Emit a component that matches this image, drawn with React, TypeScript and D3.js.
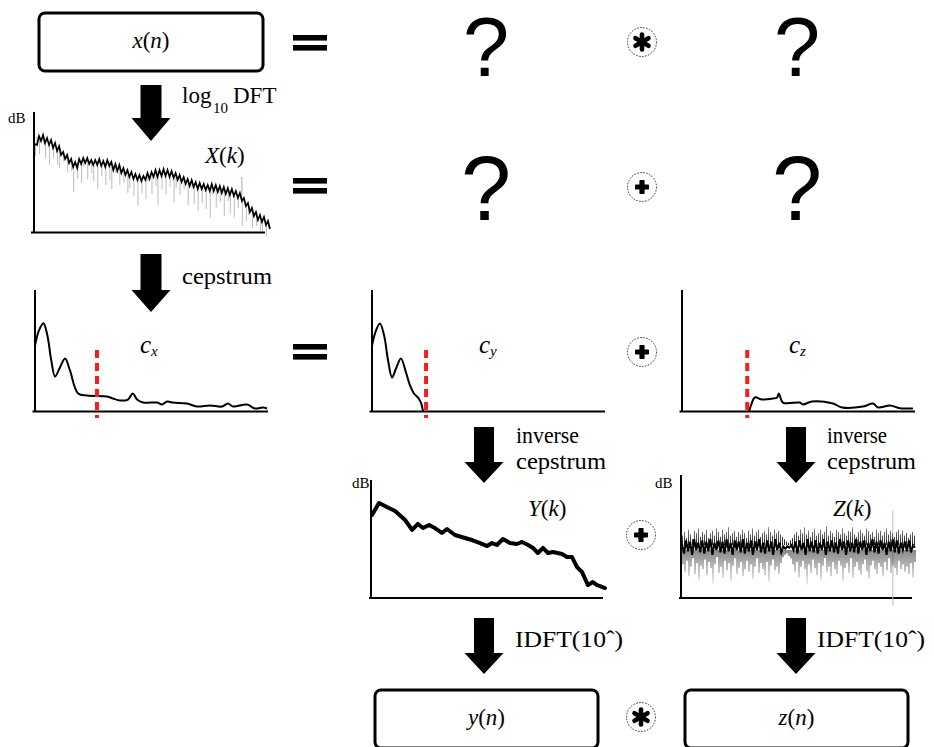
import React from "react";
import * as d3 from "d3";

// ---------- data ----------
// X(k): log spectrum of x(n), dB above floor (dense noisy line)
const X_DB = [
  89, 88, 97, 92, 98, 90, 95, 88, 93, 85,
  90, 82, 87, 78, 81, 74, 78, 70, 74, 66,
  71, 65, 74, 69, 75, 70, 75, 69, 73, 68,
  73, 68, 74, 67, 72, 66, 73, 67, 71, 63,
  69, 62, 68, 60, 65, 58, 63, 56, 61, 54,
  59, 53, 58, 52, 57, 53, 60, 54, 61, 56,
  63, 56, 63, 57, 64, 57, 63, 56, 62, 55,
  60, 53, 58, 51, 56, 49, 54, 47, 53, 46,
  51, 44, 50, 44, 49, 43, 48, 42, 49, 42,
  48, 41, 47, 40, 46, 39, 45, 38, 44, 37,
  42, 35, 40, 32, 35, 27, 30, 21, 25, 17,
  21, 13, 18, 11, 16, 8, 12, 4,
];
const X_DIP_AT = [0, 2, 4, 5, 7, 9, 11, 12, 14, 16, 18, 19, 21, 23, 24, 26, 28, 29, 31, 33, 35, 37, 38, 40, 42, 44, 46, 47, 49, 51, 53, 55, 56, 58, 60, 61, 63, 65, 67, 69, 70, 72, 74, 76, 78, 79, 81, 83, 85, 87, 88, 90, 92, 94, 96, 97, 99, 101, 103, 105, 106, 108, 110, 112, 113, 115, 116];
const X_DIP_DEPTH = [12, 18, 8, 15, 20, 10, 14, 22, 9, 17, 12, 25, 11, 19, 8, 21, 13, 16, 24, 10, 18, 14, 27, 9, 20, 15, 23, 11, 17, 26, 12, 19, 8, 22, 16, 28, 13, 18, 10, 24, 15, 20, 12, 26, 9, 17, 22, 14, 19, 27, 11, 23, 16, 29, 13, 18, 21, 10, 25, 15, 12, 20, 14, 17, 9, 11, 7];
const X_UP_AT = [1, 103];
const X_UP_HEIGHT = [8, 24];

// cepstra (quefrency 0..100, amplitude 0..100)
const CX_Q = [0, 1.7, 3.6, 5.3, 7, 8.6, 10.7, 12.9, 15, 18.5, 22.3, 30.9, 33.5, 36.5, 39.9, 42, 43.8, 46.4, 52.4, 54.5, 56.7, 59.2, 65.2, 69.5, 75.1, 80.3, 82.8, 85, 91, 94.4, 97.9, 99.6];
const CX_A = [54.5, 67, 73, 63, 42, 29, 36.4, 43.8, 33.9, 14.9, 13.2, 12.4, 10.7, 9.1, 9.9, 14.9, 9.9, 7.4, 7.4, 5.8, 8.3, 7.4, 6.6, 4.1, 5, 4.1, 6.6, 4.1, 5.8, 2.5, 3.3, 2.5];
const CX_CUT = 26.6;

const CY_Q = [0, 1.7, 3.4, 5.2, 6.9, 8.6, 10.3, 12.4, 14.6, 16.3, 18, 19.7, 21, 21.9];
const CY_A = [54.5, 66.9, 72.7, 62.8, 42.1, 28.1, 35.5, 43.8, 32.2, 21.5, 14.9, 11.6, 7.4, 0];
const CY_CUT = 23.2;

const CZ_Q = [28.8, 29.6, 31.3, 34.3, 39.1, 40.8, 41.6, 43.3, 50.6, 51.9, 55.8, 64.8, 68.7, 77.7, 82, 84.1, 89.3, 92.3, 94.4, 99.1];
const CZ_A = [0, 5, 11.6, 9.9, 10.7, 11.6, 14.9, 7.4, 7.4, 5.8, 8.3, 6.6, 3.3, 4.1, 6.6, 3.3, 5, 3.3, 2.5, 2.5];
const CZ_CUT = 28;

// Y(k): smooth envelope (k 0..100, dB 0..100)
const Y_K = [0, 3, 6.4, 9.9, 14.2, 17.2, 19.7, 21.9, 24.5, 27, 30, 32.2, 35.6, 39.9, 42.9, 46.4, 49.4, 51.5, 53.6, 56.2, 59.2, 62.2, 64.4, 67, 69.1, 71.2, 73.4, 75.5, 77.7, 81.5, 83.7, 85.8, 88, 90.1, 92.7, 94.8, 96.6, 98.7, 100];
const Y_DB = [69.2, 79.2, 75.8, 72.5, 65, 56.7, 61.7, 58.3, 60.8, 58.3, 54.2, 57.5, 52.5, 50, 48.3, 45.8, 43.3, 45.8, 44.2, 49.2, 45.8, 45, 46.7, 44.2, 41.7, 37.5, 41.7, 37.5, 38.3, 36.7, 34.2, 34.2, 25.8, 21.7, 10.8, 13.3, 10.8, 9.2, 8.3];

// Z(k): flat noisy excitation spectrum
const Z_CORE = [
  45, 37, 48, 39, 47, 36, 49, 40, 46, 38, 48, 37, 47, 39, 49, 36, 46, 40, 48, 38,
  47, 37, 49, 39, 46, 36, 48, 40, 47, 38, 49, 37, 46, 39, 48, 36, 47, 40, 49, 38,
  46, 37, 48, 39, 47, 36, 49, 40, 46, 38, 43, 41, 43, 42, 44, 40, 47, 37, 48, 40,
  46, 36, 49, 39, 47, 38, 48, 37, 46, 40, 49, 36, 47, 39, 48, 38, 46, 37, 49, 40,
  47, 36, 48, 39, 46, 38, 49, 37, 47, 40, 48, 36, 46, 39, 49, 38, 47, 37, 48, 40,
  46, 36, 47, 39, 49, 38, 48, 37, 46, 40, 47, 39, 48, 38, 44, 42,
];
const Z_HI = [
  52, 55, 50, 57, 53, 49, 56, 54, 58, 51, 55, 53, 57, 50, 54, 56, 52, 58, 55, 51,
  57, 53, 55, 59, 52, 54, 56, 51, 55, 53, 57, 54, 50, 56, 53, 58, 52, 55, 57, 51,
  54, 56, 53, 59, 55, 52, 57, 54, 56, 53, 51, 49, 47, 46, 48, 50, 53, 55, 52, 57,
  54, 59, 53, 56, 51, 55, 58, 52, 54, 57, 53, 55, 60, 52, 56, 54, 51, 57, 55, 53,
  58, 54, 52, 56, 55, 59, 53, 51, 55, 57, 54, 52, 58, 56, 53, 55, 51, 57, 54, 56,
  52, 55, 58, 53, 56, 54, 51, 55, 57, 53, 56, 52, 54, 50, 53, 55, 52,
];
const Z_LO = [
  28, 22, 31, 18, 26, 33, 20, 29, 15, 27, 24, 32, 19, 30, 25, 12, 28, 34, 21, 26,
  17, 31, 23, 29, 14, 27, 33, 20, 25, 30, 18, 24, 31, 22, 28, 16, 26, 33, 21, 29,
  24, 19, 30, 13, 27, 32, 23, 26, 20, 29, 34, 36, 37, 35, 33, 28, 22, 30, 17, 26,
  31, 24, 11, 28, 21, 32, 25, 19, 29, 15, 27, 33, 22, 26, 18, 30, 24, 20, 31, 27,
  14, 25, 29, 21, 33, 17, 26, 30, 23, 19, 28, 32, 22, 16, 27, 31, 24, 20, 29, 26,
  18, 30, 23, 33, 21, 27, 25, 19, 31, 24, 28, 22, 26, 20, 29, 17, 30,
];
const Z_TALL_AT = [90.5];
const Z_TALL_FROM = [-6];
const Z_TALL_TO = [73];

// ---------- helpers ----------
const SERIF = "'Liberation Serif', 'Times New Roman', serif";
const SANS = "'Liberation Sans', Arial, sans-serif";

function Arrow({ cx, y0, yh, y1, sw = 20, hw = 39 }: any) {
  const p = d3.path();
  p.moveTo(cx - sw / 2, y0);
  p.lineTo(cx + sw / 2, y0);
  p.lineTo(cx + sw / 2, yh);
  p.lineTo(cx + hw / 2, yh);
  p.lineTo(cx, y1);
  p.lineTo(cx - hw / 2, yh);
  p.lineTo(cx - sw / 2, yh);
  p.closePath();
  return <path d={p.toString()} fill="#000" />;
}

function Op({ cx, cy, kind }: any) {
  return (
    <g>
      <circle cx={cx} cy={cy} r={14.5} fill="none" stroke="#333" strokeWidth={1} strokeDasharray="1.6 1.4" />
      {kind === "plus" ? (
        <g fill="#000">
          <rect x={cx - 7} y={cy - 2.6} width={14} height={5.2} rx={0.8} />
          <rect x={cx - 2.6} y={cy - 7} width={5.2} height={14} rx={0.8} />
        </g>
      ) : (
        <g stroke="#000" strokeWidth={4.6} strokeLinecap="round">
          {[90, 30, 150].map((a) => {
            const r = (a * Math.PI) / 180;
            const dx = Math.cos(r) * 7.5;
            const dy = Math.sin(r) * 7.5;
            return <line key={a} x1={cx - dx} y1={cy - dy} x2={cx + dx} y2={cy + dy} />;
          })}
        </g>
      )}
    </g>
  );
}

function Equals({ y }: any) {
  return (
    <g fill="#000">
      <rect x={293} y={y} width={34} height={5.6} />
      <rect x={293} y={y + 10} width={34} height={5.6} />
    </g>
  );
}

function Question({ x, y, size }: any) {
  return (
    <text x={x} y={y} textAnchor="middle" fontFamily={SANS} fontSize={size}>?</text>
  );
}

function Axes({ ax, top, base, x0, x1 }: any) {
  return (
    <g stroke="#000" strokeWidth={2} fill="none">
      <line x1={ax} y1={top} x2={ax} y2={base} />
      <line x1={x0} y1={base} x2={x1} y2={base} />
    </g>
  );
}

function Box({ x, y, w, h, v }: any) {
  return (
    <g>
      <rect x={x} y={y} width={w} height={h} rx={6} fill="#fff" stroke="#000" strokeWidth={3} />
      <text x={x + w / 2} y={y + 35} textAnchor="middle" fontFamily={SERIF} fontSize={23}>
        <tspan fontStyle="italic">{v}</tspan>(<tspan fontStyle="italic">n</tspan>)
      </text>
    </g>
  );
}

function Cep({ ax, Q, A, cut, sub, labelX }: any) {
  const xs = d3.scaleLinear().domain([0, 100]).range([ax, ax + 233]);
  const ys = d3.scaleLinear().domain([0, 100]).range([411.5, 290.5]);
  const pts: [number, number][] = Q.map((q: number, i: number) => [q, A[i]]);
  const line = d3
    .line<[number, number]>()
    .x((d) => xs(d[0]))
    .y((d) => ys(d[1]))
    .curve(d3.curveCatmullRom.alpha(0.5));
  return (
    <g>
      <Axes ax={ax} top={290} base={411.5} x0={ax - 2.5} x1={ax + 233} />
      <path d={line(pts) || ""} fill="none" stroke="#000" strokeWidth={2} strokeLinejoin="round" />
      <line x1={xs(cut)} x2={xs(cut)} y1={350} y2={418} stroke="#ff1a1a" strokeWidth={4} strokeDasharray="8 5" />
      <text x={labelX} y={353} fontFamily={SERIF} fontStyle="italic">
        <tspan fontSize={25}>c</tspan>
        <tspan fontSize={15} dy={3}>{sub}</tspan>
      </text>
    </g>
  );
}

function XSpectrum() {
  const xs = d3.scaleLinear().domain([0, X_DB.length - 1]).range([35, 270]);
  const ys = d3.scaleLinear().domain([0, 120]).range([233, 113]);
  const line = d3
    .line<number>()
    .x((_, i) => xs(i))
    .y((d) => ys(d));
  return (
    <g>
      <Axes ax={34} top={112} base={232.5} x0={31} x1={265} />
      <text x={8} y={123} fontFamily={SERIF} fontSize={15}>dB</text>
      {X_DIP_AT.map((k, j) => (
        <line key={"d" + j} x1={xs(k) + 0.5} x2={xs(k) + 0.5} y1={ys(X_DB[k])} y2={ys(X_DB[k] - X_DIP_DEPTH[j])} stroke="#8a8a8a" strokeWidth={0.8} opacity={0.7} />
      ))}
      {X_UP_AT.map((k, j) => (
        <line key={"u" + j} x1={xs(k)} x2={xs(k)} y1={ys(X_DB[k])} y2={ys(X_DB[k] + X_UP_HEIGHT[j])} stroke="#777" strokeWidth={0.8} opacity={0.8} />
      ))}
      <path d={line(X_DB) || ""} fill="none" stroke="#000" strokeWidth={1.7} strokeLinejoin="miter" />
      <text x={205} y={163} fontFamily={SERIF} fontSize={23}>
        <tspan fontStyle="italic">X</tspan>(<tspan fontStyle="italic">k</tspan>)
      </text>
    </g>
  );
}

function YSpectrum() {
  const xs = d3.scaleLinear().domain([0, 100]).range([372, 605]);
  const ys = d3.scaleLinear().domain([0, 100]).range([598, 478]);
  const pts: [number, number][] = Y_K.map((k, i) => [k, Y_DB[i]]);
  const line = d3
    .line<[number, number]>()
    .x((d) => xs(d[0]))
    .y((d) => ys(d[1]));
  return (
    <g>
      <Axes ax={371} top={480} base={598} x0={369} x1={603} />
      <text x={352} y={488} fontFamily={SERIF} fontSize={15}>dB</text>
      <path d={line(pts) || ""} fill="none" stroke="#000" strokeWidth={4} strokeLinejoin="round" strokeLinecap="round" />
      <text x={528} y={516} fontFamily={SERIF} fontSize={23}>
        <tspan fontStyle="italic">Y</tspan>(<tspan fontStyle="italic">k</tspan>)
      </text>
    </g>
  );
}

function ZSpectrum() {
  const ys = d3.scaleLinear().domain([0, 100]).range([598, 478]);
  const xc = d3.scaleLinear().domain([0, Z_CORE.length - 1]).range([682, 915]);
  const xh = d3.scaleLinear().domain([0, Z_HI.length - 1]).range([682.5, 914.5]);
  const xl = d3.scaleLinear().domain([0, Z_LO.length - 1]).range([683, 915]);
  const xp = d3.scaleLinear().domain([0, 100]).range([682, 915]);
  const line = d3
    .line<number>()
    .x((_, i) => xc(i))
    .y((d) => ys(d));
  return (
    <g>
      <defs>
        <linearGradient id="zlo" gradientUnits="userSpaceOnUse" x1={0} y1={ys(40)} x2={0} y2={ys(10)}>
          <stop offset="0" stopColor="#111" />
          <stop offset="1" stopColor="#e6e6e6" />
        </linearGradient>
        <linearGradient id="zhi" gradientUnits="userSpaceOnUse" x1={0} y1={ys(44)} x2={0} y2={ys(60)}>
          <stop offset="0" stopColor="#000" />
          <stop offset="1" stopColor="#888" />
        </linearGradient>
      </defs>
      <Axes ax={681} top={475} base={598} x0={679} x1={912} />
      <text x={655} y={488} fontFamily={SERIF} fontSize={15}>dB</text>
      {Z_TALL_AT.map((k, j) => (
        <line key={"t" + j} x1={xp(k)} x2={xp(k)} y1={ys(Z_TALL_FROM[j])} y2={ys(Z_TALL_TO[j])} stroke="#bbb" strokeWidth={1} />
      ))}
      {Z_LO.map((v, i) => (
        <line key={"l" + i} x1={xl(i)} x2={xl(i)} y1={ys(40)} y2={ys(v)} stroke="url(#zlo)" strokeWidth={1} />
      ))}
      {Z_HI.map((v, i) => (
        <line key={"h" + i} x1={xh(i)} x2={xh(i)} y1={ys(44)} y2={ys(v)} stroke="url(#zhi)" strokeWidth={0.9} />
      ))}
      <path d={line(Z_CORE) || ""} fill="none" stroke="#000" strokeWidth={2} />
      <text x={833} y={516} fontFamily={SERIF} fontSize={23}>
        <tspan fontStyle="italic">Z</tspan>(<tspan fontStyle="italic">k</tspan>)
      </text>
    </g>
  );
}

export default function App() {
  return (
    <svg
      width={934}
      height={747}
      viewBox="0 0 934 747"
      style={{ position: "absolute", left: 0, top: 0, background: "#fff" }}
    >
      <rect x={0} y={0} width={934} height={747} fill="#fff" />

      {/* row 1 */}
      <Box x={39} y={13} w={224} h={58} v="x" />
      <Equals y={35} />
      <Question x={486} y={76} size={83} />
      <Op cx={642} cy={42} kind="star" />
      <Question x={797} y={76} size={83} />

      {/* arrow log DFT */}
      <Arrow cx={151} y0={85} yh={118} y1={141} sw={21} />
      <text fontFamily={SERIF} fontSize={23}>
        <tspan x={182} y={103}>log</tspan>
        <tspan x={213} y={113} fontSize={15}>10</tspan>
        <tspan x={233} y={103}>DFT</tspan>
      </text>

      {/* row 2 */}
      <XSpectrum />
      <Equals y={178} />
      <Question x={486} y={220} size={90} />
      <Op cx={642} cy={187} kind="plus" />
      <Question x={797} y={220} size={90} />

      {/* arrow cepstrum */}
      <Arrow cx={151} y0={254} yh={290} y1={312} sw={21} />
      <text x={182} y={284} fontFamily={SERIF} fontSize={23} textLength={90} lengthAdjust="spacingAndGlyphs">cepstrum</text>

      {/* row 3 */}
      <Cep ax={35} Q={CX_Q} A={CX_A} cut={CX_CUT} sub="x" labelX={140} />
      <Equals y={344} />
      <Cep ax={372} Q={CY_Q} A={CY_A} cut={CY_CUT} sub="y" labelX={479} />
      <Op cx={642} cy={352} kind="plus" />
      <Cep ax={682} Q={CZ_Q} A={CZ_A} cut={CZ_CUT} sub="z" labelX={789} />

      {/* inverse cepstrum arrows */}
      <Arrow cx={484} y0={427} yh={462} y1={483} />
      <text x={516} y={443} fontFamily={SERIF} fontSize={23} textLength={63} lengthAdjust="spacingAndGlyphs">inverse</text>
      <text x={516} y={469} fontFamily={SERIF} fontSize={23} textLength={90} lengthAdjust="spacingAndGlyphs">cepstrum</text>
      <Arrow cx={796} y0={427} yh={462} y1={483} />
      <text x={827} y={443} fontFamily={SERIF} fontSize={23} textLength={60} lengthAdjust="spacingAndGlyphs">inverse</text>
      <text x={827} y={469} fontFamily={SERIF} fontSize={23} textLength={89} lengthAdjust="spacingAndGlyphs">cepstrum</text>

      {/* row 4 */}
      <YSpectrum />
      <Op cx={641} cy={535} kind="plus" />
      <ZSpectrum />

      {/* IDFT arrows */}
      <Arrow cx={484} y0={618} yh={653} y1={674} />
      <text x={515} y={647} fontFamily={SERIF} fontSize={23} textLength={108} lengthAdjust="spacingAndGlyphs">IDFT(10ˆ)</text>
      <Arrow cx={796} y0={618} yh={653} y1={674} />
      <text x={817} y={647} fontFamily={SERIF} fontSize={23} textLength={108} lengthAdjust="spacingAndGlyphs">IDFT(10ˆ)</text>

      {/* row 5 */}
      <Box x={375} y={690} w={223} h={58} v="y" />
      <Op cx={641} cy={717} kind="star" />
      <Box x={685} y={690} w={223} h={58} v="z" />
    </svg>
  );
}
